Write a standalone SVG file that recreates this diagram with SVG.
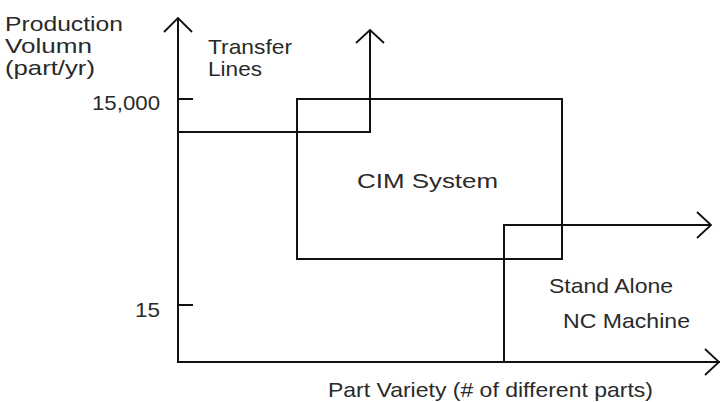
<svg xmlns="http://www.w3.org/2000/svg" width="720" height="402" viewBox="0 0 720 402">
<style>
.ln{fill:none;stroke:#111;stroke-width:2;stroke-linejoin:miter}
.hd{fill:none;stroke:#111;stroke-width:1.8}
text{font-family:"Liberation Sans",Arial,sans-serif;font-size:21px;fill:#2a2a2a}
</style>
<rect width="720" height="402" fill="#fff"/>
<g id="axes">
<polyline class="ln" points="178,18 178,362 720,362"/>
<polyline class="hd" points="164,32 178,18 192,32"/>
<polyline class="hd" points="705,349 719,362 705,375"/>
<line class="ln" x1="178" y1="99" x2="193" y2="99"/>
<line class="ln" x1="178" y1="305" x2="193" y2="305"/>
<text x="5" y="31" textLength="118" lengthAdjust="spacingAndGlyphs">Production</text>
<text x="5" y="53" textLength="87" lengthAdjust="spacingAndGlyphs">Volumn</text>
<text x="5" y="75" textLength="90" lengthAdjust="spacingAndGlyphs">(part/yr)</text>
<text x="92" y="110" textLength="68" lengthAdjust="spacingAndGlyphs">15,000</text>
<text x="135" y="317" textLength="25" lengthAdjust="spacingAndGlyphs">15</text>
<text x="328" y="397" textLength="325" lengthAdjust="spacingAndGlyphs">Part Variety (# of different parts)</text>
</g>
<g id="transfer">
<polyline class="ln" points="178,132 370,132 370,30"/>
<polyline class="hd" points="356,43 370,30 384,43"/>
<text x="208" y="54" textLength="84" lengthAdjust="spacingAndGlyphs">Transfer</text>
<text x="208" y="76" textLength="54" lengthAdjust="spacingAndGlyphs">Lines</text>
</g>
<g id="cim">
<rect class="ln" x="297" y="99" width="265" height="160"/>
<text x="357" y="188" textLength="141" lengthAdjust="spacingAndGlyphs">CIM System</text>
</g>
<g id="standalone">
<polyline class="ln" points="504,362 504,225 711,225"/>
<polyline class="hd" points="697,212 711,225 697,238"/>
<text x="549" y="293" textLength="124" lengthAdjust="spacingAndGlyphs">Stand Alone</text>
<text x="563" y="328" textLength="127" lengthAdjust="spacingAndGlyphs">NC Machine</text>
</g>
</svg>
